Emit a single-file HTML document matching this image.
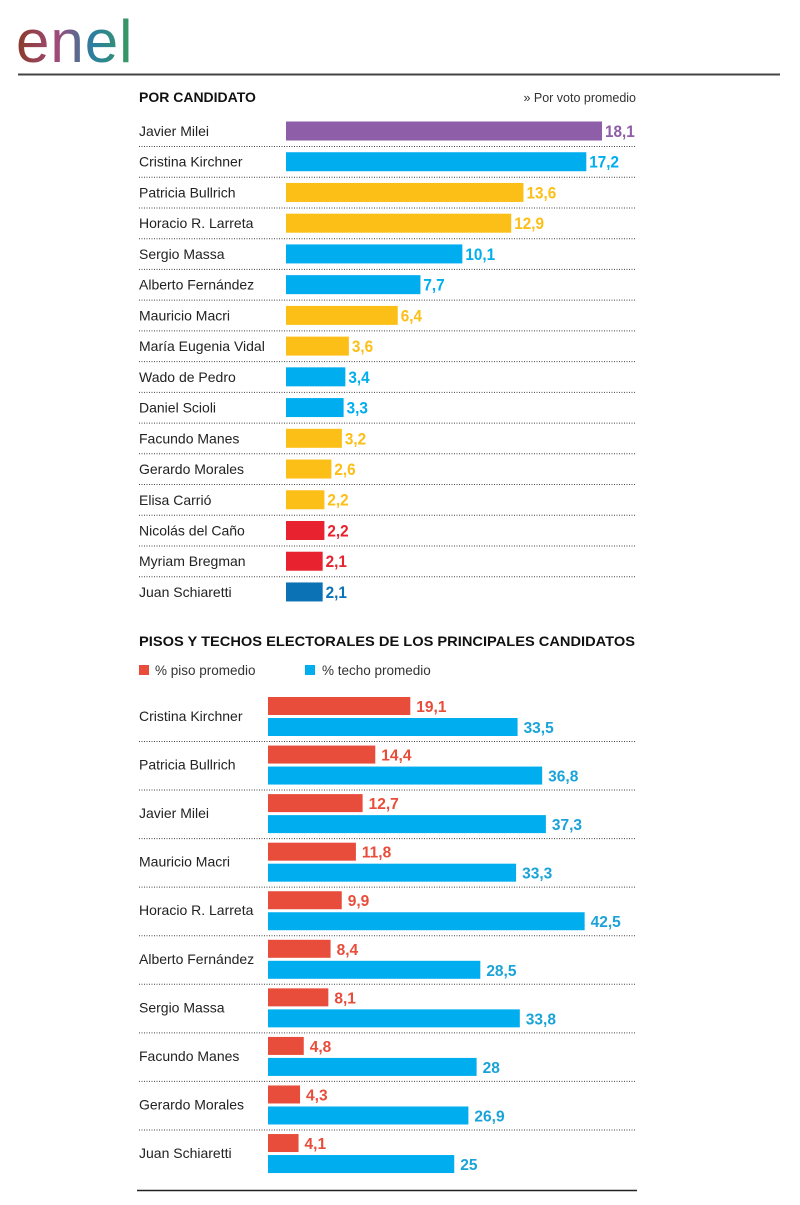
<!DOCTYPE html>
<html><head><meta charset="utf-8"><style>
body{margin:0;width:800px;height:1200px;background:#fff;font-family:"Liberation Sans",sans-serif;overflow:hidden}
svg text{font-family:"Liberation Sans",sans-serif}
</style></head><body>
<svg id="c" width="800" height="1200">
<defs><linearGradient id="lg" x1="0" x2="1"><stop offset="0" stop-color="#8a3b2a"/><stop offset="0.35" stop-color="#a04a7a"/><stop offset="0.65" stop-color="#2a7fa0"/><stop offset="1" stop-color="#3a9a5a"/></linearGradient></defs>
<g>
<text x="16" y="62" font-size="60" fill="url(#lg)" font-weight="normal" letter-spacing="1" style="font-family:'Liberation Sans',sans-serif">enel</text>
</g>
<line x1="18" y1="74.5" x2="780" y2="74.5" stroke="#444" stroke-width="2"/>
<text x="139" y="102" font-size="14" font-weight="bold" fill="#111">POR CANDIDATO</text>
<text x="636" y="102" font-size="12.5" text-anchor="end" fill="#333">» Por voto promedio</text>
<g id="top"></g>
<text x="139" y="646" font-size="14" font-weight="bold" fill="#111" textLength="496" lengthAdjust="spacingAndGlyphs">PISOS Y TECHOS ELECTORALES DE LOS PRINCIPALES CANDIDATOS</text>
<g>
<rect x="139" y="665" width="10" height="10" fill="#e84c3a"/>
<text x="155" y="675" font-size="13.5" fill="#333">% piso promedio</text>
<rect x="305" y="665" width="10" height="10" fill="#00aeef"/>
<text x="322" y="675" font-size="13.5" fill="#333">% techo promedio</text>
</g>
<g id="bot"></g>
<line x1="137" y1="1190.5" x2="637" y2="1190.5" stroke="#222" stroke-width="1.5"/>
</svg>
<script>
const topNames=["Javier Milei","Cristina Kirchner","Patricia Bullrich","Horacio R. Larreta","Sergio Massa","Alberto Fernández","Mauricio Macri","María Eugenia Vidal","Wado de Pedro","Daniel Scioli","Facundo Manes","Gerardo Morales","Elisa Carrió","Nicolás del Caño","Myriam Bregman","Juan Schiaretti"];
const topValues=[18.1,17.2,13.6,12.9,10.1,7.7,6.4,3.6,3.4,3.3,3.2,2.6,2.2,2.2,2.1,2.1];
const topParty=["lla","fdt","jxc","jxc","fdt","fdt","jxc","jxc","fdt","fdt","jxc","jxc","jxc","fit","fit","hpn"];
const botNames=["Cristina Kirchner","Patricia Bullrich","Javier Milei","Mauricio Macri","Horacio R. Larreta","Alberto Fernández","Sergio Massa","Facundo Manes","Gerardo Morales","Juan Schiaretti"];
const pisoValues=[19.1,14.4,12.7,11.8,9.9,8.4,8.1,4.8,4.3,4.1];
const techoValues=[33.5,36.8,37.3,33.3,42.5,28.5,33.8,28,26.9,25];
const partyColor={lla:"#8e5ea8",fdt:"#00aeef",jxc:"#fcbf17",fit:"#e8222e",hpn:"#0b72b5"};
const NS="http://www.w3.org/2000/svg";
function mk(p,tag,a){const e=document.createElementNS(NS,tag);for(const k in a)e.setAttribute(k,a[k]);p.appendChild(e);return e;}
const fmt=v=>String(v).replace(".",",");
const tx=v=>286+v*17.46, ty=i=>131+i*30.73;
const T=document.getElementById("top");
topNames.forEach((n,i)=>{
 const c=ty(i);
 const l=mk(T,"text",{x:139,y:c+5,"font-size":14,fill:"#222"});l.textContent=n;
 
 
 const r=mk(T,"rect",{x:286,y:c-9.5,width:tx(topValues[i])-286,height:19,fill:partyColor[topParty[i]]});
 
 
 const v=mk(T,"text",{x:tx(topValues[i])+3,y:c+6,"font-size":17,"font-weight":"bold",fill:partyColor[topParty[i]],transform:"translate("+(tx(topValues[i])+3)+","+(c+6)+") scale(0.9,1) translate("+(-(tx(topValues[i])+3))+","+(-(c+6))+")"});v.textContent=fmt(topValues[i]);
 
 
 if(i<topNames.length-1){const s=mk(T,"line",{x1:139,x2:636,y1:c+15.5,y2:c+15.5,stroke:"#444","stroke-dasharray":"1 1.5"});
 
 }
});
const bx=v=>268+v*7.45, by=i=>706+i*48.56;
const B=document.getElementById("bot");
botNames.forEach((n,i)=>{
 const c=by(i);
 const l=mk(B,"text",{x:139,y:c+15,"font-size":14,fill:"#222"});l.textContent=n;
 
 
 const r1=mk(B,"rect",{x:268,y:c-9,width:bx(pisoValues[i])-268,height:18,fill:"#e84c3a"});
 
 
 const v1=mk(B,"text",{x:bx(pisoValues[i])+6,y:c+6,"font-size":15.5,"font-weight":"bold",fill:"#e84c3a"});v1.textContent=fmt(pisoValues[i]);
 
 
 const r2=mk(B,"rect",{x:268,y:c+12,width:bx(techoValues[i])-268,height:18,fill:"#00aeef"});
 
 
 const v2=mk(B,"text",{x:bx(techoValues[i])+6,y:c+27,"font-size":15.5,"font-weight":"bold",fill:"#1aa3d8"});v2.textContent=fmt(techoValues[i]);
 
 
 if(i<botNames.length-1){const s=mk(B,"line",{x1:139,x2:636,y1:c+35.5,y2:c+35.5,stroke:"#444","stroke-dasharray":"1 1.5"});
 
 }
});
</script>
</body></html>
